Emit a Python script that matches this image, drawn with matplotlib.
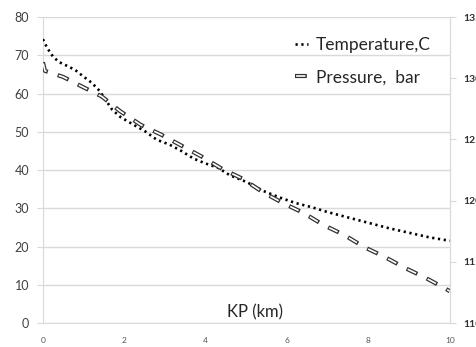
"""
KP profile: temperature (left axis) and pressure (right axis)
"""
import numpy as np
import matplotlib
matplotlib.use("Agg")
import matplotlib.pyplot as plt
from matplotlib.lines import Line2D

plt.rcParams['font.family'] = ['Lato', 'DejaVu Sans']
plt.rcParams['lines.scale_dashes'] = False

# data
kp_temp = [0, 0.1, 0.25, 0.4, 0.6, 0.8, 1.0, 1.2, 1.4, 1.55, 1.7, 1.9, 2.2, 2.5, 2.8,
           3.1, 3.4, 3.7, 4.0, 4.3, 4.6, 5.0, 5.4, 5.8, 6.2, 6.6, 7.0, 7.5, 8.0, 8.5,
           9.0, 9.5, 10.0]
temperature = [74.2, 72.0, 69.6, 68.2, 67.2, 66.1, 64.4, 62.8, 60.6, 58.2, 55.8, 53.9,
               52.0, 50.2, 47.9, 46.7, 45.0, 43.0, 41.7, 40.6, 38.6, 36.9, 34.6, 32.9,
               31.4, 30.3, 29.0, 27.6, 26.2, 24.8, 23.6, 22.4, 21.5]
kp_pres = [0, 0.05, 0.5, 1.0, 1.45, 1.9, 2.4, 2.9, 3.4, 3.9, 4.4, 4.9, 5.4, 5.9, 6.4,
           6.9, 7.4, 7.9, 8.4, 8.9, 9.4, 9.9, 10.0]
pressure = [131.3, 130.6, 130.1, 129.25, 128.5, 127.3, 126.2, 125.4, 124.5, 123.6,
            122.6, 121.8, 120.7, 119.8, 119.0, 118.0, 117.2, 116.2, 115.4, 114.5,
            113.7, 112.8, 112.6]

left_ticks = [0, 10, 20, 30, 40, 50, 60, 70, 80]
right_ticks = [110, 115, 120, 125, 130, 135]
x_ticks = [0, 2, 4, 6, 8, 10]

grid_c = '#d9d9d9'
text_c = '#404040'

fig = plt.figure(figsize=(4.77, 3.47), dpi=100)
ax = fig.add_axes([0.090, 0.069, 0.853, 0.882])
ax2 = ax.twinx()

# temperature: dotted black
t_line, = ax.plot(kp_temp, temperature, color='black', lw=1.9,
                  linestyle=(0, (1.6, 2.6)), zorder=3)

# pressure: outlined dashes (dark dash + white core)
p_out, = ax2.plot(kp_pres, pressure, color='#333333', lw=3.0,
                  linestyle=(0, (8.5, 7.5)), dash_capstyle='butt')
p_in, = ax2.plot(kp_pres, pressure, color='white', lw=1.2,
                 linestyle=(15.2, (6.7, 9.3)), dash_capstyle='butt')

ax.set_xlim(0, 10)
ax.set_ylim(0, 80)
ax2.set_ylim(110, 135)
ax.set_xticks(x_ticks)
ax.set_yticks(left_ticks)
ax2.set_yticks(right_ticks)

ax.yaxis.grid(True, color=grid_c, lw=1.0)
ax.set_axisbelow(True)

ax.spines['top'].set_visible(False)
ax2.spines['top'].set_visible(False)
for s in ['left', 'bottom', 'right']:
    ax.spines[s].set_color(grid_c)
    ax2.spines[s].set_color(grid_c)
ax2.spines['left'].set_visible(False)
ax2.spines['bottom'].set_visible(False)

ax.tick_params(axis='y', length=4, color=grid_c, labelsize=9, labelcolor=text_c, pad=6)
ax.tick_params(axis='x', length=0, labelsize=6, labelcolor='#555555', pad=10)
ax2.tick_params(axis='y', length=4, color=grid_c, labelsize=7.5, labelcolor='#303030', pad=6)
for lab in ax2.get_yticklabels():
    lab.set_fontweight('bold')

ax.text(5.2, 2.9, 'KP (km)', fontsize=12, color='#262626', ha='center', va='center')

ax.legend([t_line, (p_out, p_in)], ['Temperature,C', 'Pressure,  bar'],
          loc='upper right', bbox_to_anchor=(0.953, 0.935), frameon=False,
          fontsize=12.5, handlelength=0.75, handletextpad=0.45, labelspacing=0.95,
          borderpad=0, borderaxespad=0, labelcolor='#262626')

fig.savefig('out.png', dpi=100)
